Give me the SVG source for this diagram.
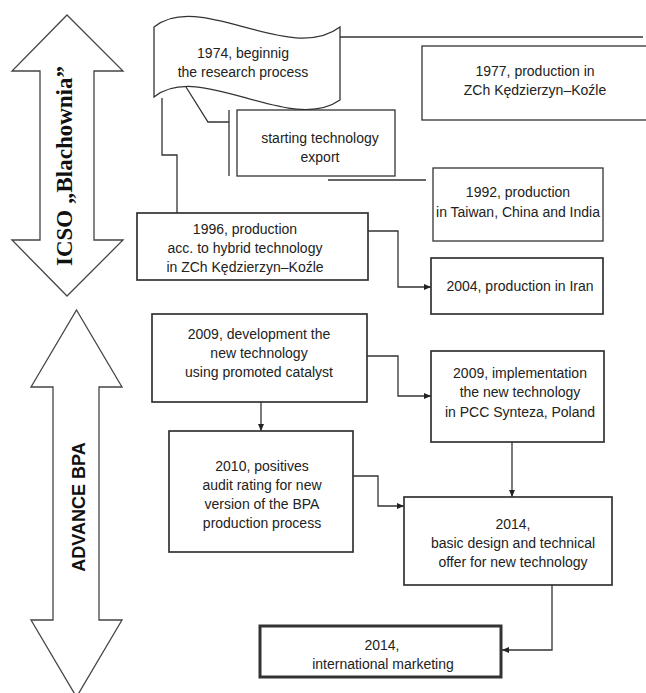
<svg xmlns="http://www.w3.org/2000/svg" width="646" height="693" viewBox="0 0 646 693">
<style>
.box{fill:#fff;stroke:#333;stroke-width:1.3}
.mid{stroke-width:1.7}
.thick{stroke-width:3}
.big{fill:#fff;stroke:#444;stroke-width:1.3}
.ln{fill:none;stroke:#333;stroke-width:1.3}
.t{font-family:"Liberation Sans",Arial,sans-serif;font-size:14px;fill:#222;text-anchor:middle}
</style>
<defs>
<marker id="ah" markerUnits="userSpaceOnUse" markerWidth="8" markerHeight="8" refX="7" refY="3" orient="auto">
<path d="M0,0 L7,3 L0,6 Z" fill="#222"/>
</marker>
</defs>
<rect width="646" height="693" fill="#fff"/>

<g id="arrow-icso">
<polygon class="big" points="67,15 123,71 94,71 94,240 123,240 67,296 12,240 40,240 40,71 12,71"/>
<text transform="translate(72,166) rotate(-90)" text-anchor="middle" font-family="'Liberation Serif','Times New Roman',serif" font-weight="bold" font-size="23" fill="#111">ICSO „Blachownia”</text>
</g>

<g id="arrow-advance">
<polygon class="big" points="76.5,310 122,387 99,387 99,620 122,620 76.5,697 31,620 53,620 53,387 31,387"/>
<text transform="translate(85,507) rotate(-90)" text-anchor="middle" font-family="'Liberation Sans',Arial,sans-serif" font-weight="bold" font-size="18" fill="#111">ADVANCE BPA</text>
</g>

<g id="connectors">
<path class="ln" d="M340,37 L643,37"/>
<path class="ln" d="M186,87 L208,122 L229,122"/>
<path class="ln" d="M229,110 L229,176"/>
<path class="ln" d="M328,180 L426,180"/>
<path class="ln" d="M162,98 L162,155 L177,155 L177,213"/>
<path class="ln" d="M368,231 L398,231 L398,287 L431,287" marker-end="url(#ah)"/>
<path class="ln" d="M367,356 L398,356 L398,396 L431,396" marker-end="url(#ah)"/>
<path class="ln" d="M261,402 L261,431" marker-end="url(#ah)"/>
<path class="ln" d="M353,476 L378,476 L378,506 L404,506" marker-end="url(#ah)"/>
<path class="ln" d="M512,442 L512,497" marker-end="url(#ah)"/>
<path class="ln" d="M552,585 L552,650 L502,650" marker-end="url(#ah)"/>
</g>

<g id="n1974">
<path class="box" d="M154,27 C200,-10 290,65 340,27 L340,100 C290,135 200,60 154,97 Z"/>
<text class="t" x="243" y="58">1974, beginnig</text>
<text class="t" x="243" y="77">the research process</text>
</g>

<g id="n1977">
<rect class="box" x="422" y="46" width="230" height="74"/>
<text class="t" x="535" y="76">1977, production in</text>
<text class="t" x="535" y="95">ZCh Kędzierzyn–Koźle</text>
</g>

<g id="nexport">
<rect class="box" x="237" y="110" width="158" height="66"/>
<text class="t" x="320" y="143">starting technology</text>
<text class="t" x="320" y="162">export</text>
</g>

<g id="n1992">
<rect class="box" x="433" y="168" width="170" height="73"/>
<text class="t" x="518" y="197">1992, production</text>
<text class="t" x="518" y="217">in Taiwan, China and India</text>
</g>

<g id="n1996">
<rect class="box mid" x="137" y="213" width="231" height="67"/>
<text class="t" x="245" y="234">1996, production</text>
<text class="t" x="245" y="253">acc. to hybrid technology</text>
<text class="t" x="245" y="272">in ZCh Kędzierzyn–Koźle</text>
</g>

<g id="n2004">
<rect class="box mid" x="431" y="258" width="172" height="56"/>
<text class="t" x="520" y="291">2004, production in Iran</text>
</g>

<g id="n2009dev">
<rect class="box mid" x="152" y="314" width="215" height="88"/>
<text class="t" x="259" y="339">2009, development the</text>
<text class="t" x="259" y="358">new technology</text>
<text class="t" x="259" y="377">using promoted catalyst</text>
</g>

<g id="n2009impl">
<rect class="box mid" x="431" y="351" width="173" height="91"/>
<text class="t" x="520" y="378">2009, implementation</text>
<text class="t" x="520" y="397">the new technology</text>
<text class="t" x="520" y="417">in PCC Synteza, Poland</text>
</g>

<g id="n2010">
<rect class="box mid" x="169" y="431" width="184" height="121"/>
<text class="t" x="262" y="471">2010, positives</text>
<text class="t" x="262" y="490">audit rating for new</text>
<text class="t" x="262" y="509">version of the BPA</text>
<text class="t" x="262" y="528">production process</text>
</g>

<g id="n2014basic">
<rect class="box mid" x="404" y="497" width="208" height="88"/>
<text class="t" x="513" y="529">2014,</text>
<text class="t" x="513" y="548">basic design and technical</text>
<text class="t" x="513" y="567">offer for new technology</text>
</g>

<g id="n2014market">
<rect class="box thick" x="260" y="626" width="241" height="51"/>
<text class="t" x="382" y="650">2014,</text>
<text class="t" x="383" y="669">international marketing</text>
</g>
</svg>
